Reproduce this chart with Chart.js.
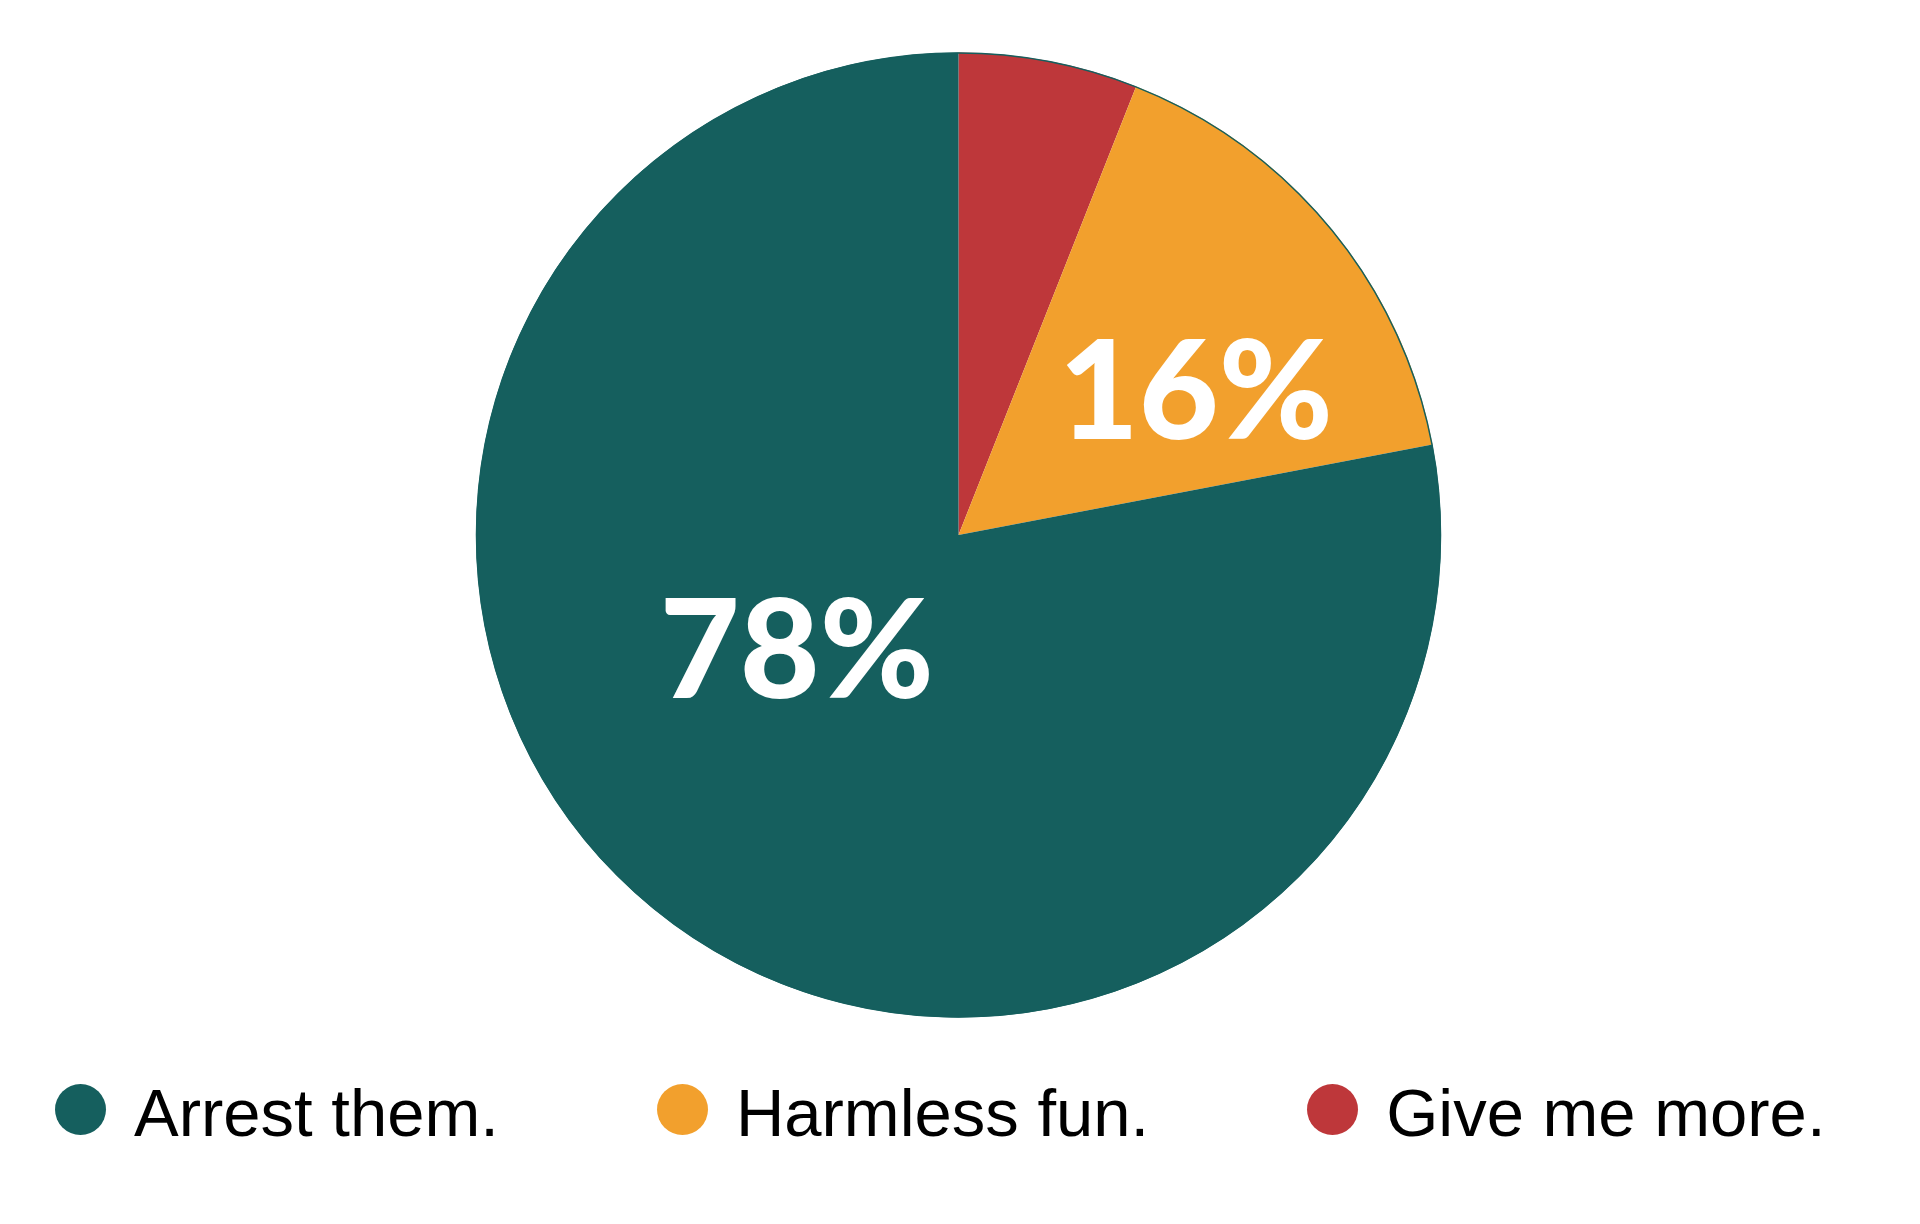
<!DOCTYPE html>
<html>
<head>
<meta charset="utf-8">
<script src="https://cdn.jsdelivr.net/npm/chart.js@4/dist/chart.umd.min.js"></script>
<style>
  html, body { margin: 0; padding: 0; background: #ffffff; }
  #wrap { position: relative; width: 1920px; height: 1224px; }
  #pie { position: absolute; left: 0; top: 0; }
  #legend {
    position: absolute; left: 55px; top: 1080px; height: 64px;
    display: flex; align-items: center; gap: 158px;
    font-family: "Liberation Sans", Arial, sans-serif; font-size: 67px; color: #000;
  }
  .item { display: flex; align-items: center; white-space: nowrap; }
  .dot { width: 51px; height: 51px; border-radius: 50%; margin-right: 28px; margin-top: -6px; }
</style>
</head>
<body>
<div id="wrap">
  <canvas id="pie" width="1920" height="1224"></canvas>
  <div id="legend"></div>
</div>
<script>
// Survey answers, in legend order
const categories = ['Arrest them.', 'Harmless fun.', 'Give me more.'];
const shares = [78, 16, 6];
const valueLabels = ['78%', '16%', ''];
const colors = ['#155f5e', '#f2a02d', '#be373a'];

// The pie runs clockwise from 12 o'clock: smallest answer first
const order = [2, 1, 0];

// Where each value label sits, as a fraction of the radius from the centre
const labelOffsets = { 0: [-0.335, 0.238], 1: [0.492, -0.30] };

const valueLabelPlugin = {
  id: 'valueLabels',
  afterDatasetsDraw(chart) {
    const ctx = chart.ctx;
    const meta = chart.getDatasetMeta(0);
    const arc0 = meta.data[0];
    const cx = arc0.x, cy = arc0.y, r = arc0.outerRadius;
    // thin rim round the whole pie
    ctx.save();
    ctx.beginPath();
    ctx.arc(cx, cy, r - 0.5, 0, Math.PI * 2);
    ctx.strokeStyle = colors[0];
    ctx.lineWidth = 1.5;
    ctx.stroke();
    ctx.fillStyle = '#ffffff';
    ctx.font = '900 138px Lato, "Open Sans", sans-serif';
    ctx.textAlign = 'center';
    ctx.textBaseline = 'middle';
    order.forEach((src, i) => {
      const text = valueLabels[src];
      const off = labelOffsets[src];
      if (!text || !off) return;
      ctx.fillText(text, cx + off[0] * r, cy + off[1] * r + 4);
    });
    ctx.restore();
  }
};

new Chart(document.getElementById('pie'), {
  type: 'pie',
  data: {
    labels: order.map(i => categories[i]),
    datasets: [{
      data: order.map(i => shares[i]),
      backgroundColor: order.map(i => colors[i]),
      borderWidth: 0
    }]
  },
  options: {
    responsive: false,
    animation: false,
    layout: { padding: { top: 52.5, bottom: 206.5, left: 0, right: 3 } },
    plugins: { legend: { display: false }, tooltip: { enabled: false } }
  },
  plugins: [valueLabelPlugin]
});

// Legend row built from the same arrays
const legend = document.getElementById('legend');
categories.forEach((name, i) => {
  const item = document.createElement('div');
  item.className = 'item';
  const dot = document.createElement('span');
  dot.className = 'dot';
  dot.style.background = colors[i];
  const label = document.createElement('span');
  label.textContent = name;
  item.appendChild(dot);
  item.appendChild(label);
  legend.appendChild(item);
});
</script>
</body>
</html>
